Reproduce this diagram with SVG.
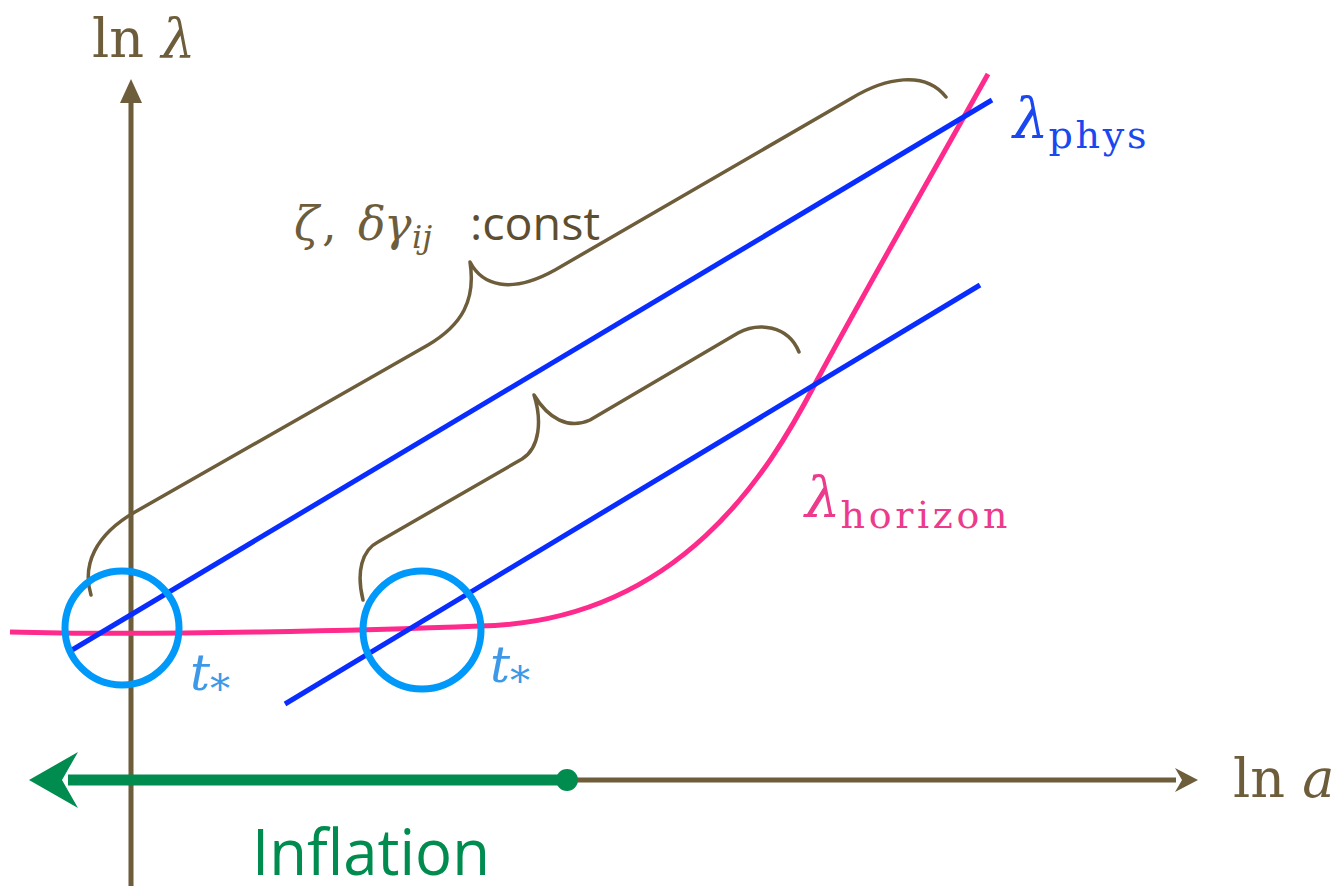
<svg xmlns="http://www.w3.org/2000/svg" width="1334" height="886" viewBox="0 0 1334 886">
<style>
.axis{stroke:#6d5d3a;stroke-width:5;fill:none}
.brace{stroke:#6d5d3a;stroke-width:3.5;fill:none;stroke-linecap:round;stroke-linejoin:round}
.blue{stroke:#0a2dff;stroke-width:5;fill:none}
.pink{stroke:#ff2b8c;stroke-width:5;fill:none}
.ring{stroke:#0099fa;stroke-width:7;fill:none}
.serif{font-family:"DejaVu Serif","Liberation Serif",serif}
.sans{font-family:"Open Sans","Liberation Sans",sans-serif}
.tstar{font-family:"DejaVu Serif","Liberation Serif",serif;font-size:50px;font-style:italic;fill:#3d99e8}
</style>
<rect width="1334" height="886" fill="#ffffff"/>
<g id="axes">
<line class="axis" x1="131" y1="886" x2="131" y2="102"/>
<path d="M131,79 L142,103 L120,103 Z" fill="#6d5d3a"/>
<line class="axis" x1="90" y1="780" x2="1176" y2="780"/>
<path d="M1198,780 L1175,768 L1182,780 L1175,792 Z" fill="#6d5d3a"/>
<text id="ylabel" class="serif" x="92" y="57" font-size="54" fill="#6d5d3a">ln <tspan font-style="italic">λ</tspan></text>
<text id="xlabel" class="serif" x="1233" y="797" font-size="54" fill="#6d5d3a">ln <tspan font-style="italic">a</tspan></text>
</g>
<g id="connectors">
<path id="horizon" class="pink" d="M10,632 C150,636 380,630 480,626 C680,622 770,470 815,384 C860,300 940,160 988,74"/>
<line id="phys1" class="blue" x1="72" y1="650" x2="992" y2="100"/>
<line id="phys2" class="blue" x1="285" y1="704" x2="980" y2="285"/>
<path id="brace1" class="brace" d="M91,595 C82,565 95,535 135,512 L428,345 C462,325 476,300 470,262 C482,285 510,295 555,270 L852,98 C885,78 925,70 946,97"/>
<path id="brace2" class="brace" d="M363,600 C356,572 362,550 378,542 L522,459 C540,448 542,420 534,395 C548,418 568,430 590,420 L738,333 C758,322 788,325 799,352"/>
</g>
<g id="ring1"><circle class="ring" cx="122" cy="628" r="57"/></g>
<g id="ring2"><circle class="ring" cx="422" cy="630" r="59"/></g>
<g id="labels">
<text class="tstar" x="190" y="690">t<tspan font-size="40" font-style="normal" dy="12">*</tspan></text>
<text class="tstar" x="490" y="682">t<tspan font-size="40" font-style="normal" dy="12">*</tspan></text>
<text class="serif" x="1013" y="138" font-size="56" font-style="italic" fill="#1a47f0">λ<tspan font-size="38" font-style="normal" dy="10" textLength="98">phys</tspan></text>
<text class="serif" x="805" y="517" font-size="56" font-style="italic" fill="#ec3a8c">λ<tspan font-size="38" font-style="normal" dy="11" textLength="167">horizon</tspan></text>
<text class="serif" x="294" y="240" font-size="46" font-style="italic" fill="#6d5d3a">ζ<tspan x="322" font-style="normal">,</tspan><tspan x="358">δ</tspan><tspan x="384">γ</tspan><tspan x="412" dy="8" font-size="32">ij</tspan></text>
<text class="sans" x="470" y="240" font-size="46" fill="#5e4e30" textLength="130" lengthAdjust="spacingAndGlyphs">:const</text>
</g>
<g id="inflation">
<line x1="567" y1="780" x2="68" y2="780" stroke="#008c4f" stroke-width="11"/>
<path d="M29,780 L78,752 L62,780 L78,808 Z" fill="#008c4f"/>
<circle cx="567" cy="780" r="11" fill="#008c4f"/>
<text class="sans" x="252" y="875" font-size="64" fill="#008c4f" textLength="238" lengthAdjust="spacingAndGlyphs">Inflation</text>
</g>
</svg>
